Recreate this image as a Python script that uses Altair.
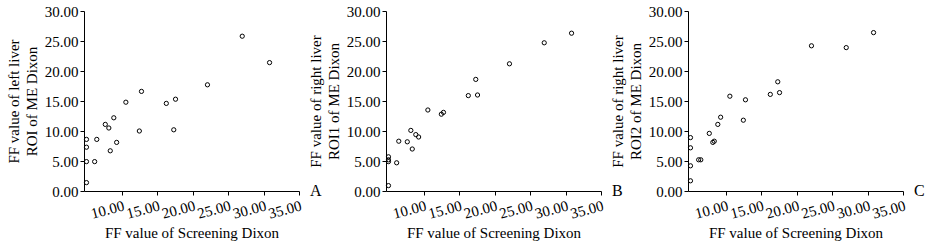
import altair as alt
import pandas as pd

# Screening Dixon FF (x) shared by all three panels
x_ff = [5.05, 5.05, 5.05, 5.05, 6.2, 6.5, 7.7, 8.2, 8.4, 8.9, 9.3, 10.6,
        12.5, 12.8, 16.3, 17.35, 17.6, 22.1, 27.0, 30.85]
# ME Dixon FF values per ROI
y_left = [8.6, 7.3, 4.9, 1.4, 4.9, 8.6, 11.1, 10.5, 6.7, 12.2, 8.1, 14.8,
          10.0, 16.6, 14.6, 10.2, 15.3, 17.7, 25.8, 21.4]
y_roi1 = [5.7, 5.2, 4.9, 0.9, 4.7, 8.3, 8.2, 10.1, 7.0, 9.4, 9.0, 13.5,
          12.8, 13.1, 15.9, 18.6, 16.0, 21.2, 24.7, 26.3]
y_roi2 = [8.9, 7.2, 4.2, 1.7, 5.2, 5.2, 9.6, 8.1, 8.3, 11.1, 12.3, 15.8,
          11.8, 15.2, 16.1, 18.2, 16.4, 24.2, 23.9, 26.4]

panel_letters = ["A", "B", "C"]
y_titles = [
    ["FF value of left liver", "ROI of ME Dixon"],
    ["FF value of right liver", "ROI1 of ME Dixon"],
    ["FF value of right liver", "ROI2 of ME Dixon"],
]
x_title = "FF value of Screening Dixon"
x_ticks = [10, 15, 20, 25, 30, 35]
y_ticks = [0, 5, 10, 15, 20, 25, 30]

FONT = "Liberation Serif"
W, H = 215, 180


def panel(yvals, letter, ytitle):
    df = pd.DataFrame({"x": x_ff, "y": yvals})
    pts = alt.Chart(df).mark_point(
        shape="circle", filled=False, color="black", size=18, strokeWidth=1, opacity=1
    ).encode(
        x=alt.X("x:Q", scale=alt.Scale(domain=[4.7, 35], nice=False, zero=False),
                axis=alt.Axis(values=x_ticks, format=".2f", title=x_title,
                              labelAngle=345, labelAlign="right", labelBaseline="top",
                              labelPadding=3, titlePadding=4, labelOverlap=False,
                              labelFlush=False)),
        y=alt.Y("y:Q", scale=alt.Scale(domain=[0, 30], nice=False),
                axis=alt.Axis(values=y_ticks, format=".2f", title=ytitle,
                              titlePadding=5, titleLineHeight=18, labelOverlap=False,
                              labelFlush=False)),
    )
    lab = alt.Chart(pd.DataFrame({"t": [letter]})).mark_text(
        font=FONT, fontSize=16, align="left", baseline="middle", color="black"
    ).encode(x=alt.value(W + 11), y=alt.value(H), text="t:N")
    return alt.layer(pts, lab).properties(width=W, height=H)


chart = alt.hconcat(
    panel(y_left, panel_letters[0], y_titles[0]),
    panel(y_roi1, panel_letters[1], y_titles[1]),
    panel(y_roi2, panel_letters[2], y_titles[2]),
    spacing=87,
    bounds="flush",
).configure(
    background="white", padding={"left": 6, "top": 4, "right": 2, "bottom": 4}
).configure_view(stroke=None).configure_axis(
    grid=False, domainColor="black", tickColor="black", tickSize=4,
    labelFont=FONT, titleFont=FONT, labelFontSize=15, titleFontSize=15,
    labelColor="black", titleColor="black", titleFontWeight="normal",
)

chart.save("out.html", embed_options={"renderer": "svg", "actions": False})
